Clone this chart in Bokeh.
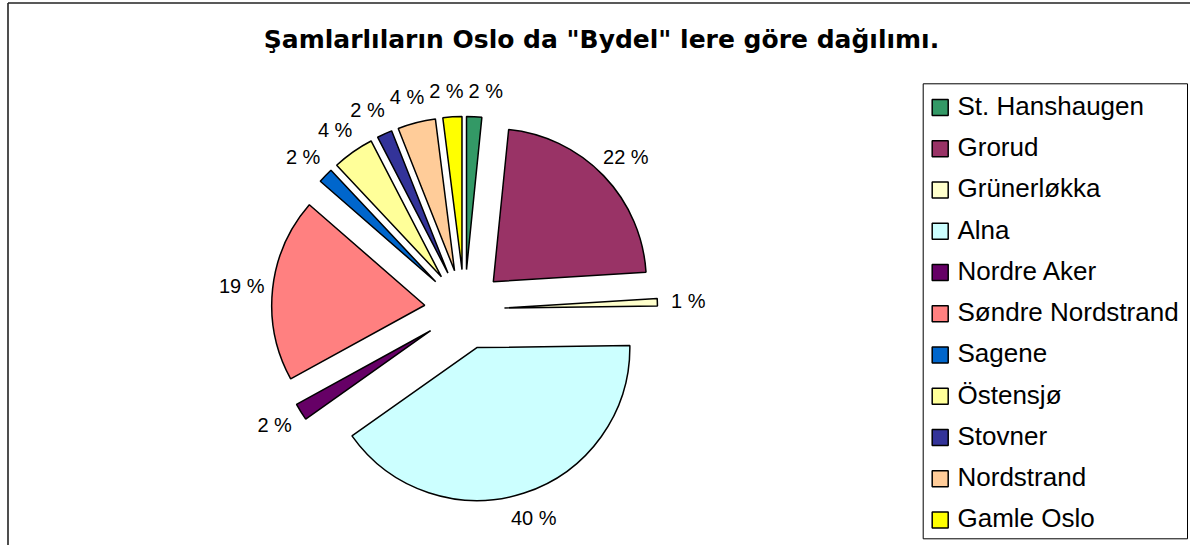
import math
from bokeh.plotting import figure
from bokeh.models import Range1d, ColumnDataSource
from bokeh.core.properties import value
from bokeh.embed import file_html
from bokeh.resources import INLINE

# ---------------- data ----------------
title_text = 'Şamlarlıların Oslo da "Bydel" lere göre dağılımı.'
districts = ["St. Hanshaugen", "Grorud", "Grünerløkka", "Alna", "Nordre Aker",
             "Søndre Nordstrand", "Sagene", "Östensjø", "Stovner", "Nordstrand",
             "Gamle Oslo"]
counts = [8, 112, 4, 202, 9, 97, 8, 22, 8, 20, 10]
colors = ["#339966", "#993366", "#FFFFCC", "#CCFFFF", "#660066", "#FF8080",
          "#0066CC", "#FFFF99", "#333399", "#FFCC99", "#FFFF00"]

# ---------------- layout ----------------
W, H = 1190, 545
FONT = value("Liberation Sans")
BASE_FIX = 0.37  # em shift so that the alphabetic baseline lands where intended

p = figure(width=W, height=H, x_range=Range1d(0, W), y_range=Range1d(0, H),
           output_backend="svg", toolbar_location=None, min_border=0,
           x_axis_type=None, y_axis_type=None)
p.grid.visible = False
p.outline_line_color = None
p.background_fill_color = "white"
p.border_fill_color = "white"

# frame lines (left and top of the chart area)
p.segment(x0=[7.5, 7.5], y0=[0, H - 2.5], x1=[7.5, W], y1=[H - 2.5, H - 2.5],
          line_color="#222222", line_width=1.6)

# ---------------- pie ----------------
cx, cy, r, explode = 464.0, 236.0, 153.0, 40.0
total = float(sum(counts))
start = math.pi / 2
wx, wy, sa, ea, lx, ly, lt = [], [], [], [], [], [], []
a = start
for c in counts:
    span = c / total * 2 * math.pi
    a0, a1 = a, a - span
    mid = (a0 + a1) / 2
    ax_ = cx + explode * math.cos(mid)
    ay_ = cy + explode * math.sin(mid)
    wx.append(ax_); wy.append(ay_); sa.append(a1); ea.append(a0)
    lx.append(ax_ + 184 * math.cos(mid))
    ly.append(ay_ + 179 * math.sin(mid))
    lt.append("%d %%" % round(c / total * 100))
    a = a1

src = ColumnDataSource(dict(x=wx, y=wy, start=sa, end=ea, color=colors))
p.wedge(x="x", y="y", radius=r, start_angle="start", end_angle="end",
        direction="anticlock", fill_color="color", line_color="black",
        line_width=1.5, source=src)

# simple horizontal repel of data labels
def text_w(s):
    wmap = {" ": 0.278, "%": 0.889}
    return sum(wmap.get(ch, 0.556) for ch in s) * 20

widths = [text_w(s) for s in lt]
for _ in range(60):
    for i in range(len(lx)):
        for j in range(i + 1, len(lx)):
            if abs(ly[i] - ly[j]) < 15:
                need = (widths[i] + widths[j]) / 2 + 5
                dx = lx[j] - lx[i]
                if abs(dx) < need:
                    push = (need - abs(dx)) / 2
                    sgn = 1 if dx >= 0 else -1
                    lx[i] -= sgn * push
                    lx[j] += sgn * push

lbl_size = 20
p.text(x=lx, y=[v - 0.358 * lbl_size + BASE_FIX * lbl_size for v in ly], text=lt,
       text_font=FONT, text_font_size="%dpx" % lbl_size, text_align="center",
       text_baseline="alphabetic", text_color="black")

# ---------------- title ----------------
title_size = 25
p.text(x=[601.0], y=[H - 48.3 + BASE_FIX * title_size], text=[title_text],
       text_font=value("DejaVu Sans"), text_font_size="%dpx" % title_size,
       text_font_style="bold", text_align="center",
       text_baseline="alphabetic", text_color="black")

# ---------------- legend ----------------
p.quad(left=[922.7], right=[1187], bottom=[H - 538.3], top=[H - 83.3],
       fill_color="white", line_color="black", line_width=1)
leg_size = 26
row_ref = [107 + i * 41.25 for i in range(len(districts))]
row_y = [H - v for v in row_ref]
p.rect(x=[939.7] * len(districts), y=row_y, width=16, height=16,
       fill_color=colors, line_color="black", line_width=1.5)
p.text(x=[957.0] * len(districts), y=[v - 8 + BASE_FIX * leg_size for v in row_y],
       text=districts, text_font=FONT, text_font_size="%dpx" % leg_size,
       text_align="left", text_baseline="alphabetic", text_color="black")

open("out.html", "w").write(file_html(p, INLINE))
